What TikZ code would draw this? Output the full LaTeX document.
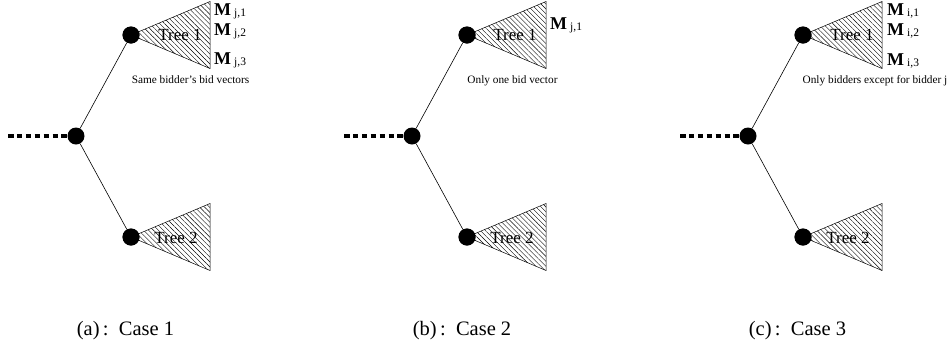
\documentclass[tikz,border=0pt]{standalone}
\usepackage{fontspec}
\setmainfont{Liberation Serif}
\usetikzlibrary{patterns.meta}
\tikzset{
  dot/.style={circle,fill=black,inner sep=0pt,minimum size=17pt},
  branch/.style={line width=0.6pt},
  lead/.style={line width=4pt,dash pattern=on 5.5pt off 3.4pt},
  treetri/.style={draw,line width=0.5pt,pattern={Lines[angle=-45,distance=3.5pt,line width=0.4pt]}},
  treelbl/.style={inner sep=0pt,font=\fontsize{17}{17}\selectfont},
  mlbl/.style={inner sep=0pt,anchor=base west,font=\fontsize{18}{18}\selectfont},
  note/.style={inner sep=0pt,anchor=base,font=\fontsize{11.3}{12}\selectfont},
  captext/.style={inner sep=0pt,anchor=base,font=\fontsize{20.5}{21}\selectfont}
}
\newcommand{\mlab}[2]{\textbf{M}\,\raisebox{-1pt}{\fontsize{11.5}{12}\selectfont #1,#2}}
\begin{document}
\begin{tikzpicture}[x=1pt,y=-1pt]
\useasboundingbox (0,0) rectangle (951,349);
% ---------- panel a
\begin{scope}[shift={(76,0)},name prefix=a-]
  \coordinate (start) at (-68,136);
  \node[dot] (root) at (0,136) {};
  \node[dot] (top) at (55,35) {};
  \node[dot] (bot) at (55,237) {};
  \draw[lead] (start) -- (root.west);
  \draw[branch] (root) -- (top);
  \draw[branch] (root) -- (bot);
  \path[treetri] (top.center) -- ++(79,-33.5) -- ++(0,67) -- cycle;
  \path[treetri] (bot.center) -- ++(79,-33.5) -- ++(0,67) -- cycle;
  \node[dot] at (top) {};
  \node[dot] at (bot) {};
  \node[treelbl] (t1) at (104,35) {Tree 1};
  \node[treelbl] (t2) at (100,238) {Tree 2};
  \node[mlbl] (m1) at (138,15) {\mlab{j}{1}};
  \node[mlbl] (m2) at (138,35) {\mlab{j}{2}};
  \node[mlbl] (m3) at (138,64) {\mlab{j}{3}};
  \node[note] (n) at (114.5,83) {Same bidder’s bid vectors};
  \node[captext] (c) at (49.5,335) {(a)\,:\ \ Case 1};
\end{scope}
% ---------- panel b
\begin{scope}[shift={(412,0)},name prefix=b-]
  \coordinate (start) at (-68,136);
  \node[dot] (root) at (0,136) {};
  \node[dot] (top) at (55,35) {};
  \node[dot] (bot) at (55,237) {};
  \draw[lead] (start) -- (root.west);
  \draw[branch] (root) -- (top);
  \draw[branch] (root) -- (bot);
  \path[treetri] (top.center) -- ++(79,-33.5) -- ++(0,67) -- cycle;
  \path[treetri] (bot.center) -- ++(79,-33.5) -- ++(0,67) -- cycle;
  \node[dot] at (top) {};
  \node[dot] at (bot) {};
  \node[treelbl] (t1) at (103,35) {Tree 1};
  \node[treelbl] (t2) at (100,238) {Tree 2};
  \node[mlbl] (m1) at (138,29) {\mlab{j}{1}};
  \node[note] (n) at (100.5,83) {Only one bid vector};
  \node[captext] (c) at (50,335) {(b)\,:\ \ Case 2};
\end{scope}
% ---------- panel c
\begin{scope}[shift={(748,0)},name prefix=c-]
  \coordinate (start) at (-68,136);
  \node[dot] (root) at (0,136) {};
  \node[dot] (top) at (55,35) {};
  \node[dot] (bot) at (55,237) {};
  \draw[lead] (start) -- (root.west);
  \draw[branch] (root) -- (top);
  \draw[branch] (root) -- (bot);
  \path[treetri] (top.center) -- ++(79,-33.5) -- ++(0,67) -- cycle;
  \path[treetri] (bot.center) -- ++(79,-33.5) -- ++(0,67) -- cycle;
  \node[dot] at (top) {};
  \node[dot] at (bot) {};
  \node[treelbl] (t1) at (104,35) {Tree 1};
  \node[treelbl] (t2) at (100,238) {Tree 2};
  \node[mlbl] (m1) at (139,15) {\mlab{i}{1}};
  \node[mlbl] (m2) at (139,35) {\mlab{i}{2}};
  \node[mlbl] (m3) at (139,65) {\mlab{i}{3}};
  \node[note] (n) at (127,83) {Only bidders except for bidder j};
  \node[captext] (c) at (49.5,335) {(c)\,:\ \ Case 3};
\end{scope}
\end{tikzpicture}
\end{document}
